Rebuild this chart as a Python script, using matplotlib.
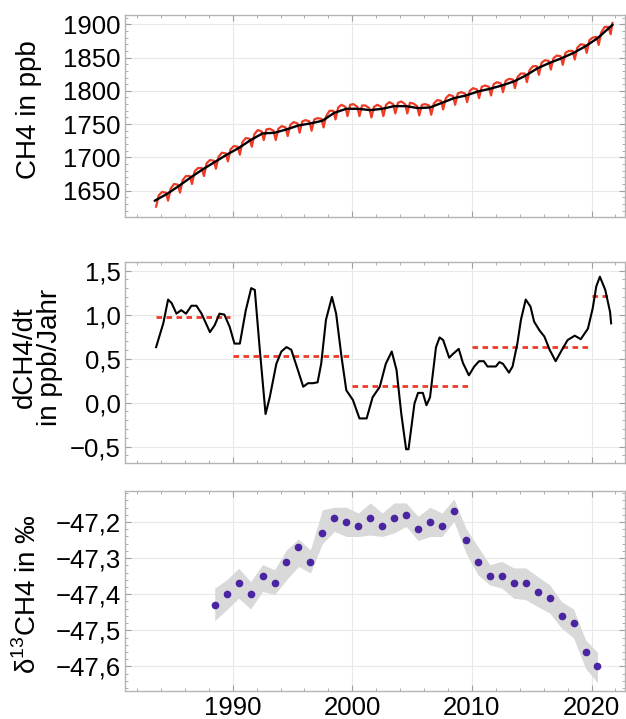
import numpy as np
import matplotlib.pyplot as plt
from matplotlib.ticker import MultipleLocator, FuncFormatter

plt.rcParams['font.family'] = ['Liberation Sans', 'DejaVu Sans']
plt.rcParams['mathtext.fontset'] = 'custom'
plt.rcParams['mathtext.rm'] = 'Liberation Sans'

# --- CH4 concentration (ppb) ---
trend_years = [1983.5 + i for i in range(39)] + [2021.75]
trend_vals = [1635, 1645, 1657, 1670, 1682, 1693, 1704, 1714, 1726, 1736,
              1737, 1742, 1748, 1751, 1755, 1767, 1773, 1773, 1771, 1773,
              1777, 1777, 1774, 1775, 1782, 1789, 1793, 1799, 1803, 1808,
              1814, 1823, 1834, 1842, 1849, 1857, 1867, 1879, 1895, 1899]

# monthly-ish values, sampled at 4 phases per year
red_phases = [0.1, 0.42, 0.6, 0.82]
red_rows = {
    1983: [1626, 1643],
    1984: [1648, 1647, 1635, 1653], 1985: [1660, 1659, 1647, 1666],
    1986: [1672, 1672, 1660, 1679], 1987: [1684, 1684, 1672, 1691],
    1988: [1696, 1695, 1683, 1701], 1989: [1707, 1706, 1694, 1712],
    1990: [1717, 1716, 1704, 1723], 1991: [1729, 1728, 1716, 1735],
    1992: [1741, 1739, 1726, 1742], 1993: [1743, 1740, 1726, 1743],
    1994: [1747, 1745, 1732, 1749], 1995: [1753, 1751, 1737, 1754],
    1996: [1756, 1754, 1740, 1757], 1997: [1759, 1758, 1745, 1762],
    1998: [1770, 1770, 1757, 1775], 1999: [1779, 1776, 1762, 1779],
    2000: [1780, 1776, 1762, 1778], 2001: [1778, 1774, 1760, 1776],
    2002: [1779, 1776, 1762, 1779], 2003: [1783, 1780, 1766, 1782],
    2004: [1784, 1780, 1766, 1782], 2005: [1781, 1777, 1763, 1779],
    2006: [1780, 1778, 1764, 1781], 2007: [1786, 1785, 1772, 1789],
    2008: [1794, 1792, 1779, 1796], 2009: [1798, 1796, 1783, 1800],
    2010: [1804, 1802, 1789, 1806], 2011: [1808, 1806, 1793, 1810],
    2012: [1813, 1811, 1798, 1815], 2013: [1818, 1817, 1804, 1821],
    2014: [1826, 1826, 1813, 1831], 2015: [1837, 1837, 1824, 1842],
    2016: [1846, 1845, 1832, 1849], 2017: [1853, 1852, 1839, 1857],
    2018: [1860, 1860, 1847, 1865], 2019: [1870, 1869, 1857, 1876],
    2020: [1880, 1881, 1869, 1888], 2021: [1896, 1896, 1885, 1902],
}

# --- growth rate ---
d_t = [1983.6, 1984.2, 1984.6, 1984.9, 1985.3, 1985.7, 1986.1, 1986.55, 1986.97, 1987.4,
       1988.1, 1988.5, 1988.9, 1989.3, 1989.75, 1990.15, 1990.6, 1991.1, 1991.55, 1991.85,
       1992.25, 1992.75, 1993.1, 1993.65, 1994.07, 1994.5, 1994.9, 1995.45, 1995.9, 1996.3,
       1996.7, 1997.1, 1997.4, 1997.8, 1998.3, 1998.65, 1999.1, 1999.5, 2000.05, 2000.6,
       2001.2, 2001.7, 2002.3, 2002.8, 2003.3, 2003.7, 2004.1, 2004.5, 2004.7, 2005.2,
       2005.5, 2005.9, 2006.2, 2006.5, 2007.0, 2007.3, 2007.6, 2008.1, 2008.4, 2008.9,
       2009.25, 2009.75, 2010.2, 2010.6, 2011.0, 2011.3, 2012.0, 2012.3, 2012.6, 2013.1,
       2013.4, 2013.8, 2014.1, 2014.5, 2014.9, 2015.2, 2015.65, 2016.06, 2016.5, 2017.0,
       2017.45, 2018.0, 2018.6, 2019.1, 2019.7, 2020.1, 2020.4, 2020.7, 2021.15, 2021.55,
       2021.64]
d_v = [0.63, 0.90, 1.17, 1.13, 1.01, 1.05, 1.01, 1.10, 1.10, 1.01,
       0.80, 0.88, 1.01, 1.00, 0.86, 0.67, 0.67, 1.05, 1.30, 1.28,
       0.63, -0.13, 0.06, 0.44, 0.58, 0.63, 0.60, 0.37, 0.18, 0.22,
       0.22, 0.23, 0.44, 0.94, 1.20, 1.01, 0.52, 0.14, 0.03, -0.18,
       -0.18, 0.06, 0.18, 0.44, 0.58, 0.37, -0.13, -0.53, -0.53, -0.01,
       0.11, 0.11, -0.03, 0.06, 0.63, 0.74, 0.71, 0.51, 0.55, 0.61,
       0.45, 0.31, 0.41, 0.47, 0.47, 0.41, 0.41, 0.46, 0.44, 0.34,
       0.41, 0.67, 0.94, 1.17, 1.09, 0.92, 0.82, 0.75, 0.60, 0.47,
       0.58, 0.71, 0.76, 0.72, 0.84, 1.07, 1.32, 1.43, 1.28, 1.03,
       0.90]
# decade means: start, end, value
mean_start = [1983.6, 1990.0, 2000.0, 2010.0, 2020.0]
mean_end = [1989.8, 1999.9, 2009.9, 2019.9, 2021.65]
mean_val = [0.975, 0.53, 0.19, 0.635, 1.215]

# --- delta 13C ---
iso_years = [1988.5 + i for i in range(33)]
iso_vals = [-47.43, -47.40, -47.37, -47.40, -47.35, -47.37, -47.31, -47.27, -47.31, -47.23,
            -47.19, -47.20, -47.21, -47.19, -47.21, -47.19, -47.18, -47.22, -47.20, -47.21,
            -47.17, -47.25, -47.31, -47.35, -47.35, -47.37, -47.37, -47.395, -47.41, -47.46,
            -47.48, -47.56, -47.60]
iso_hi = [-47.383, -47.36, -47.328, -47.365, -47.318, -47.332, -47.277, -47.247, -47.277, -47.166,
          -47.159, -47.159, -47.175, -47.147, -47.175, -47.147, -47.147, -47.184, -47.159, -47.175,
          -47.136, -47.217, -47.268, -47.318, -47.309, -47.327, -47.327, -47.351, -47.374, -47.42,
          -47.441, -47.526, -47.561]
iso_lo = [-47.473, -47.443, -47.411, -47.441, -47.392, -47.401, -47.36, -47.323, -47.341, -47.26,
          -47.226, -47.24, -47.24, -47.236, -47.24, -47.23, -47.212, -47.251, -47.24, -47.24,
          -47.198, -47.286, -47.346, -47.374, -47.383, -47.411, -47.415, -47.434, -47.452, -47.494,
          -47.521, -47.605, -47.645]

red_t, red_v = [], []
for yr, row in red_rows.items():
    ph = red_phases[-len(row):] if yr != 2021 else [0.1, 0.42, 0.6, 0.75]
    red_t += [yr + p for p in ph]
    red_v += row

RED = '#ee3b26'
fig = plt.figure(figsize=(6.26, 7.19), dpi=100)
ax1 = fig.add_axes([0.1997, 0.6978, 0.7987, 0.2814])
ax2 = fig.add_axes([0.1997, 0.3556, 0.7987, 0.2804])
ax3 = fig.add_axes([0.1997, 0.0394, 0.7987, 0.2782])


def comma(dec):
    return FuncFormatter(lambda v, p: f'{v:.{dec}f}'.replace('.', ',').replace('-', '\u2212'))


for ax in (ax1, ax2, ax3):
    ax.set_xlim(1981.0, 2022.8)
    ax.xaxis.set_major_locator(MultipleLocator(10))
    ax.xaxis.set_minor_locator(MultipleLocator(2))
    for s in ax.spines.values():
        s.set_color('#b4b4b4')
        s.set_linewidth(1.0)
    ax.tick_params(which='both', direction='in', top=True, right=True, color='#a0a0a0',
                   labelsize=18.5)
    ax.tick_params(which='major', length=4, width=0.8)
    ax.tick_params(which='minor', length=2.5, width=0.6)
    ax.tick_params(axis='y', pad=3)
    ax.tick_params(axis='x', pad=4)
    ax.grid(True, which='major', color='#e8e8e8', lw=0.8)
    ax.set_axisbelow(True)

ax1.tick_params(labelbottom=False)
ax2.tick_params(labelbottom=False)

# top panel
ax1.plot(red_t, red_v, color=RED, lw=1.6, zorder=2)
ax1.plot(trend_years, trend_vals, color='black', lw=1.7, zorder=3)
ax1.set_ylim(1610, 1914)
ax1.yaxis.set_major_locator(MultipleLocator(50))
ax1.yaxis.set_minor_locator(MultipleLocator(10))
ax1.set_ylabel('CH4 in ppb', fontsize=20)
ax1.yaxis.set_label_coords(-0.166, 0.53)

# middle panel
ax2.plot(d_t, d_v, color='black', lw=1.5, zorder=3)
for a, b, v in zip(mean_start, mean_end, mean_val):
    ax2.plot([a, b], [v, v], color=RED, lw=2.0, dashes=(2.0, 1.6), zorder=2)
ax2.set_ylim(-0.69, 1.6)
ax2.yaxis.set_major_locator(MultipleLocator(0.5))
ax2.yaxis.set_minor_locator(MultipleLocator(0.1))
ax2.yaxis.set_major_formatter(comma(1))
ax2.set_ylabel('dCH4/dt\nin ppb/Jahr', fontsize=20, linespacing=0.95)
ax2.yaxis.set_label_coords(-0.124, 0.525)

# bottom panel
ax3.fill_between(iso_years, iso_lo, iso_hi, color='#d9d9d9', lw=0, zorder=1)
ax3.plot(iso_years, iso_vals, 'o', color='#4b24a3', ms=4.5, zorder=3)
ax3.set_ylim(-47.667, -47.113)
ax3.yaxis.set_major_locator(MultipleLocator(0.1))
ax3.yaxis.set_minor_locator(MultipleLocator(0.02))
ax3.yaxis.set_major_formatter(comma(1))
ax3.set_ylabel('δ$^{\\mathregular{13}}$CH4 in ‰', fontsize=20)
ax3.yaxis.set_label_coords(-0.166, 0.48)

fig.savefig('out.png', dpi=100)
